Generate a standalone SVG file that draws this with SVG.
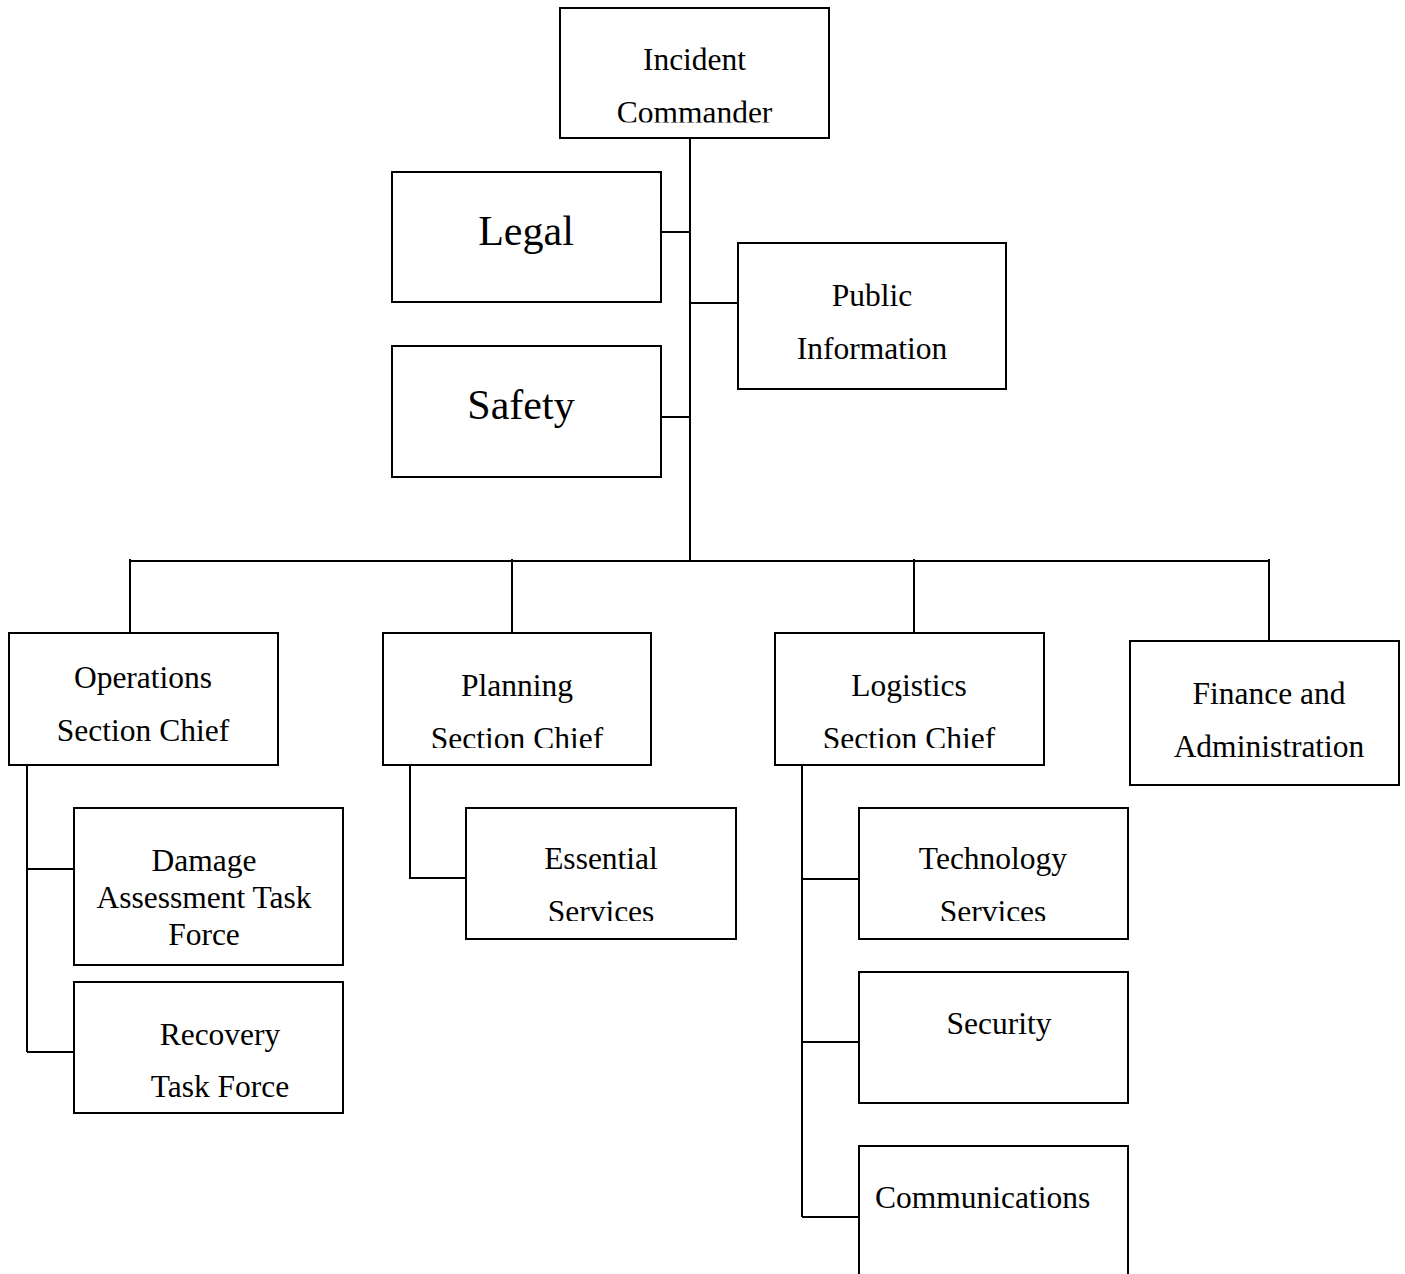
<svg xmlns="http://www.w3.org/2000/svg" width="1405" height="1274" viewBox="0 0 1405 1274">
<style>
.box{fill:#fff;stroke:#000;stroke-width:2}
.ln{stroke:#000;stroke-width:2;fill:none}
text{font-family:"Liberation Serif","Times New Roman",serif;font-size:31.5px;fill:#000;text-anchor:middle}
.big{font-size:42px}
</style>
<defs>
<clipPath id="cIC"><rect x="560" y="0" width="270" height="122.5"/></clipPath>
<clipPath id="cPL"><rect x="383" y="600" width="270" height="148"/></clipPath>
<clipPath id="cLO"><rect x="775" y="600" width="270" height="148"/></clipPath>
<clipPath id="cES"><rect x="466" y="800" width="270" height="121"/></clipPath>
<clipPath id="cTS"><rect x="859" y="800" width="270" height="121"/></clipPath>
</defs>
<rect width="1405" height="1274" fill="#fff"/>
<g id="connectors">
<path class="ln" d="M690 138V561M661 232H690M690 303H738M661 417H690"/>
<path class="ln" d="M130 561H1269M130 559V633M512 559V633M914 559V633M1269 559V641"/>
<path class="ln" d="M27 765V1052M27 869H74M27 1052H74"/>
<path class="ln" d="M410 765V878H466"/>
<path class="ln" d="M802 765V1217M802 879H859M802 1042H859M802 1217H859"/>
</g>
<g id="incident-commander">
<rect class="box" x="560" y="8" width="269" height="130"/>
<g clip-path="url(#cIC)"><text x="694.5" y="70">Incident</text><text x="694.5" y="123">Commander</text></g>
</g>
<g id="legal">
<rect class="box" x="392" y="172" width="269" height="130"/>
<text class="big" x="526" y="245">Legal</text>
</g>
<g id="public-information">
<rect class="box" x="738" y="243" width="268" height="146"/>
<text x="872" y="306">Public</text><text x="872" y="359">Information</text>
</g>
<g id="safety">
<rect class="box" x="392" y="346" width="269" height="131"/>
<text class="big" x="521" y="419">Safety</text>
</g>
<g id="operations">
<rect class="box" x="9" y="633" width="269" height="132"/>
<text x="143" y="688">Operations</text><text x="143" y="741">Section Chief</text>
</g>
<g id="planning">
<rect class="box" x="383" y="633" width="268" height="132"/>
<g clip-path="url(#cPL)"><text x="517" y="696">Planning</text><text x="517" y="749">Section Chief</text></g>
</g>
<g id="logistics">
<rect class="box" x="775" y="633" width="269" height="132"/>
<g clip-path="url(#cLO)"><text x="909" y="696">Logistics</text><text x="909" y="749">Section Chief</text></g>
</g>
<g id="finance">
<rect class="box" x="1130" y="641" width="269" height="144"/>
<text x="1269" y="704">Finance and</text><text x="1269" y="757">Administration</text>
</g>
<g id="damage-assessment">
<rect class="box" x="74" y="808" width="269" height="157"/>
<text x="204" y="871">Damage</text><text x="204" y="908">Assessment Task</text><text x="204" y="945">Force</text>
</g>
<g id="recovery">
<rect class="box" x="74" y="982" width="269" height="131"/>
<text x="220" y="1045">Recovery</text><text x="220" y="1097">Task Force</text>
</g>
<g id="essential-services">
<rect class="box" x="466" y="808" width="270" height="131"/>
<g clip-path="url(#cES)"><text x="601" y="869">Essential</text><text x="601" y="922">Services</text></g>
</g>
<g id="technology-services">
<rect class="box" x="859" y="808" width="269" height="131"/>
<g clip-path="url(#cTS)"><text x="993" y="869">Technology</text><text x="993" y="922">Services</text></g>
</g>
<g id="security">
<rect class="box" x="859" y="972" width="269" height="131"/>
<text x="999" y="1034">Security</text>
</g>
<g id="communications">
<path class="ln" d="M859 1280V1146H1128V1280"/>
<text x="875" y="1208" style="text-anchor:start">Communications</text>
</g>
</svg>
